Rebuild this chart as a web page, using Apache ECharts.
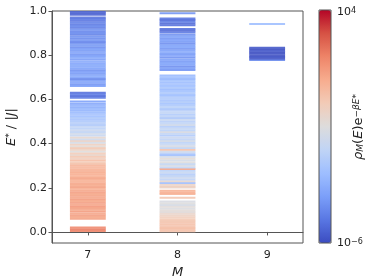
<!DOCTYPE html>
<html><head><meta charset="utf-8">
<script src="https://cdn.jsdelivr.net/npm/echarts@6/dist/echarts.min.js"></script>
<style>html,body{margin:0;padding:0;background:#fff}#c{width:374px;height:280px}</style>
</head><body><div id="c"></div>
<script>
// Sectors (magnetization M)
const sectors = [7, 8, 9];
// Energy levels: [E*/|J|, log10(rho_M(E) e^{-beta E*})]
const levels7 = [
[0.004,2.0],[0.012,2.2],[0.020,1.9],
[0.060,1.3],[0.068,1.1],[0.076,1.4],[0.084,1.2],[0.092,1.5],[0.100,1.2],[0.108,1.3],[0.116,1.6],[0.124,1.2],[0.132,1.4],
[0.140,1.1],[0.148,1.5],[0.156,1.2],[0.164,1.3],[0.172,1.1],[0.180,1.4],[0.188,1.2],[0.196,1.0],[0.204,1.3],[0.212,1.1],
[0.220,1.2],[0.228,0.9],[0.236,1.1],[0.244,1.2],[0.252,0.9],[0.260,1.0],[0.268,1.1],[0.276,0.8],[0.284,0.9],[0.292,0.7],[0.300,0.8],
[0.308,0.4],[0.316,0.1],[0.324,0.5],[0.332,-0.2],[0.340,0.2],[0.348,-0.5],[0.356,0.0],[0.364,-1.0],[0.372,-0.3],[0.380,0.1],
[0.388,-0.8],[0.396,-0.2],[0.404,-1.3],[0.412,-0.4],[0.420,-1.6],[0.428,-0.6],[0.436,-1.8],[0.444,-1.5],
[0.452,-2.0],[0.460,-1.7],[0.468,-2.2],[0.476,-2.0],[0.484,-2.5],[0.492,-2.3],[0.500,-2.6],[0.508,-2.8],[0.516,-2.5],
[0.524,-3.0],[0.532,-2.8],[0.540,-3.2],[0.548,-3.4],[0.556,-3.1],[0.564,-3.6],[0.572,-3.4],[0.580,-3.8],[0.590,-4.0],
[0.607,-5.0],[0.615,-5.3],[0.623,-4.9],[0.630,-5.2],
[0.660,-4.0],[0.668,-4.3],[0.676,-3.9],[0.684,-4.1],[0.692,-4.6],[0.700,-4.0],[0.708,-3.8],[0.716,-4.2],[0.724,-3.9],
[0.732,-4.4],[0.740,-4.0],[0.748,-3.8],[0.756,-3.6],[0.764,-3.9],[0.772,-3.7],[0.780,-4.1],[0.788,-3.8],[0.796,-4.0],
[0.804,-4.3],[0.812,-3.9],[0.820,-4.2],[0.828,-4.0],[0.836,-4.5],[0.844,-4.2],[0.852,-4.4],[0.860,-4.7],[0.868,-4.3],
[0.876,-4.6],[0.884,-4.4],[0.892,-4.8],[0.900,-4.5],[0.908,-4.7],[0.916,-4.4],[0.924,-4.9],[0.932,-4.6],[0.940,-5.0],
[0.948,-4.8],[0.956,-5.1],[0.964,-4.9],[0.971,-5.2],
[0.983,-5.4],[0.990,-5.6],[0.997,-5.5]
];
const levels8 = [
[0.003,0.3],[0.010,0.4],[0.018,0.5],[0.026,0.3],[0.034,0.4],[0.042,0.3],[0.050,0.2],[0.058,0.1],[0.066,-0.1],[0.074,-0.3],
[0.082,-0.5],[0.090,-0.9],[0.098,-0.8],[0.106,-1.1],[0.114,-0.9],[0.122,-1.3],[0.130,-1.0],[0.138,-1.2],
[0.155,0.2],
[0.172,0.8],[0.178,1.0],[0.186,0.9],
[0.201,-0.5],[0.206,-0.2],[0.214,-0.4],[0.221,-3.0],
[0.229,-0.6],[0.237,-2.1],[0.245,-1.7],[0.253,-2.0],[0.261,-2.4],[0.269,-1.8],[0.277,-2.2],[0.285,1.2],[0.292,-2.0],
[0.300,-1.3],[0.308,-1.9],[0.316,-1.0],[0.324,-1.4],[0.332,-0.8],[0.340,-1.5],[0.348,-3.0],[0.356,-2.3],[0.364,-1.6],
[0.372,0.4],[0.380,-2.0],[0.388,-1.2],[0.396,-1.8],[0.404,-2.2],[0.412,-1.4],[0.420,-2.1],[0.428,-1.7],[0.436,-2.5],
[0.444,-2.0],[0.452,-1.2],[0.460,-2.2],[0.468,-1.9],[0.476,-2.4],[0.484,-1.5],[0.492,-2.0],[0.500,-2.3],[0.508,-1.8],
[0.516,-2.6],[0.524,-2.1],[0.532,-2.5],[0.540,-2.0],[0.548,-2.3],[0.556,-2.7],[0.564,-2.2],[0.572,-2.6],[0.580,-2.9],
[0.588,-2.4],[0.596,-2.8],[0.604,-2.5],[0.612,-2.7],[0.620,-3.0],[0.628,-2.6],[0.636,-2.9],[0.644,-3.2],[0.652,-2.7],
[0.660,-3.0],[0.668,-2.8],[0.676,-3.1],[0.684,-2.9],[0.692,-3.3],[0.700,-3.0],[0.708,-3.2],
[0.733,-4.3],[0.741,-4.1],[0.749,-4.5],[0.757,-4.0],[0.765,-3.8],[0.773,-4.2],[0.781,-4.0],[0.789,-4.4],[0.797,-3.9],
[0.805,-4.1],[0.813,-3.7],[0.821,-4.0],[0.829,-4.3],[0.837,-3.8],[0.845,-4.0],[0.853,-4.5],[0.861,-4.2],[0.869,-3.9],
[0.877,-4.3],[0.885,-4.0],[0.893,-4.4],
[0.903,-5.0],[0.911,-5.4],[0.919,-5.2],
[0.935,-5.2],[0.943,-5.4],[0.951,-5.0],[0.959,-5.3],[0.966,-5.1],
[0.990,-4.3]
];
const levels9 = [
[0.778,-4.6],[0.785,-5.9],[0.792,-5.8],[0.799,-6.0],[0.806,-5.9],[0.813,-6.0],[0.820,-5.7],[0.827,-6.0],[0.834,-5.8],
[0.941,-3.0]
];
const allLevels = [levels7, levels8, levels9];
const yTicks = [0.0, 0.2, 0.4, 0.6, 0.8, 1.0];
const cbMin = -6, cbMax = 4;

const data = [];
sectors.forEach((m, i) => allLevels[i].forEach(l => data.push([m, l[0], l[1]])));

const coolwarm = ['#3b4cc0','#5977e3','#7b9ff9','#9ebeff','#c0d4f5','#dddcdc','#f2cbb7','#f7ac8e','#ee8468','#d65244','#b40426'];
const FONT = 'DejaVu Sans';
const chart = echarts.init(document.getElementById('c'), null, {renderer: 'canvas'});
chart.setOption({
  animation: false,
  textStyle: {fontFamily: FONT},
  grid: {left: 52, right: 71, top: 11, bottom: 37, show: true, borderColor: '#555', borderWidth: 1,
    backgroundColor: 'transparent', containLabel: false, outerBoundsMode: 'none'},
  xAxis: {
    type: 'value', min: 6.6, max: 9.4,
    name: 'M', nameLocation: 'middle', nameGap: 21,
    nameTextStyle: {fontFamily: FONT, fontStyle: 'italic', fontSize: 13, color: '#222'},
    axisLine: {show: true, lineStyle: {color: '#555'}},
    axisTick: {show: true, length: 3.5, customValues: sectors, lineStyle: {color: '#555'}},
    axisLabel: {customValues: sectors, margin: 7, fontSize: 11, color: '#222', fontFamily: FONT},
    splitLine: {show: false}
  },
  yAxis: {
    type: 'value', min: -0.05, max: 1.0,
    name: '{i|E}{s|*}{n| / |}{i|J}{n||}', nameLocation: 'middle', nameGap: 32, nameRotate: 90,
    nameTextStyle: {color: '#222', rich: {
      i: {fontFamily: FONT, fontStyle: 'italic', fontSize: 13, color: '#222'},
      n: {fontFamily: FONT, fontSize: 13, color: '#222'},
      s: {fontFamily: FONT, fontSize: 9, color: '#222', verticalAlign: 'top', lineHeight: 10}
    }},
    axisLine: {show: true, lineStyle: {color: '#555'}},
    axisTick: {show: true, length: 3.5, customValues: yTicks, lineStyle: {color: '#555'}},
    axisLabel: {customValues: yTicks, margin: 5, fontSize: 11, color: '#222', fontFamily: FONT, formatter: v => v.toFixed(1)},
    splitLine: {show: false}
  },
  visualMap: {
    type: 'continuous', min: cbMin, max: cbMax, dimension: 2, seriesIndex: 0,
    calculable: false, show: true, text: null, showLabel: false,
    left: 319, top: 10, itemWidth: 12, itemHeight: 233, padding: 0,
    inRange: {color: coolwarm}
  },
  graphic: [
    {type: 'rect', shape: {x: 319, y: 10, width: 12, height: 233}, style: {fill: 'none', stroke: '#555', lineWidth: 1}, z: 100},
    {type: 'text', x: 337, y: 12, style: {text: '{b|10}{s|4}', verticalAlign: 'middle', rich: {
      b: {fontFamily: FONT, fontSize: 11, fill: '#222'},
      s: {fontFamily: FONT, fontSize: 8, fill: '#222', verticalAlign: 'top', lineHeight: 9}
    }}},
    {type: 'text', x: 337, y: 243, style: {text: '{b|10}{s|−6}', verticalAlign: 'middle', rich: {
      b: {fontFamily: FONT, fontSize: 11, fill: '#222'},
      s: {fontFamily: FONT, fontSize: 8, fill: '#222', verticalAlign: 'top', lineHeight: 9}
    }}},
    {type: 'text', x: 359, y: 127, rotation: Math.PI / 2, style: {
      text: '{i|ρ}{sub|M}{n|(}{i|E}{n|)e}{sup|−βE*}', align: 'center', verticalAlign: 'middle',
      rich: {
        i: {fontFamily: FONT, fontStyle: 'italic', fontSize: 13, fill: '#222'},
        n: {fontFamily: FONT, fontSize: 13, fill: '#222'},
        sub: {fontFamily: FONT, fontStyle: 'italic', fontSize: 9, fill: '#222', verticalAlign: 'bottom', lineHeight: 9},
        sup: {fontFamily: FONT, fontStyle: 'italic', fontSize: 9, fill: '#222', verticalAlign: 'top', lineHeight: 9}
      }
    }}
  ],
  series: [{
    type: 'custom',
    coordinateSystem: 'cartesian2d',
    clip: true,
    encode: {x: 0, y: 1},
    data: data,
    renderItem: function (params, api) {
      const m = api.value(0), e = api.value(1);
      const p1 = api.coord([m - 0.2, e]);
      const p2 = api.coord([m + 0.2, e]);
      return {type: 'line', shape: {x1: p1[0], y1: p1[1], x2: p2[0], y2: p2[1]},
        style: {stroke: api.visual('color'), lineWidth: 2, opacity: 0.88}};
    }
  }]
});
</script></body></html>
